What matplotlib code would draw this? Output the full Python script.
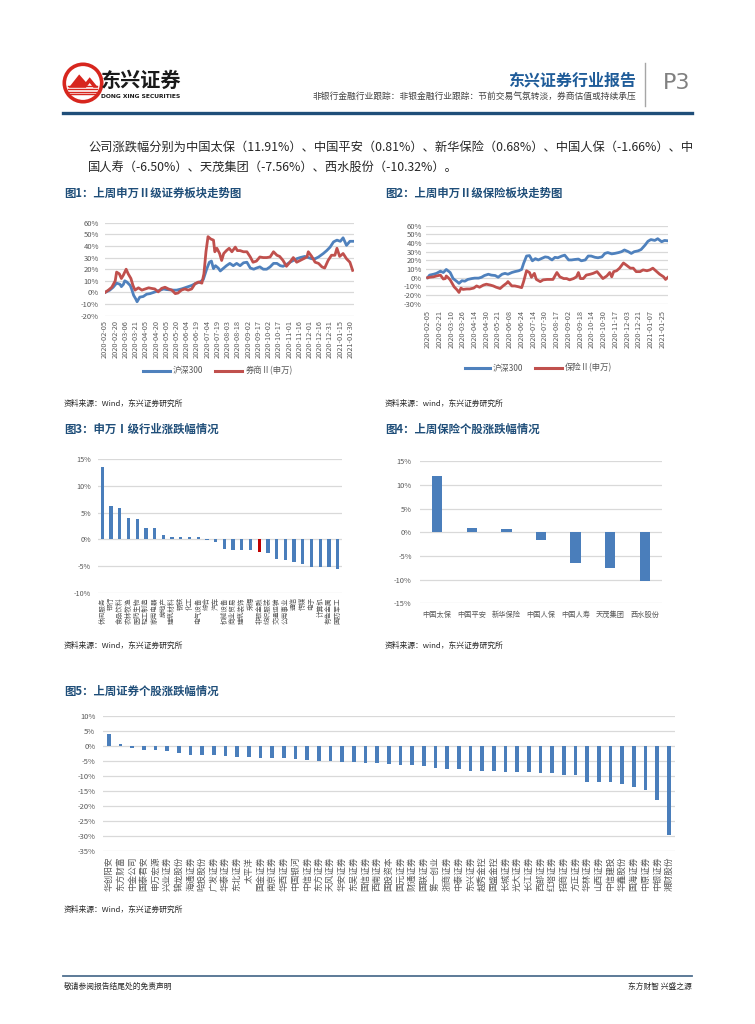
import matplotlib
matplotlib.use('Agg')
import matplotlib.pyplot as plt
import numpy as np
from matplotlib.patches import Circle, Polygon
from matplotlib.ticker import FuncFormatter

plt.rcParams['font.family'] = ['Noto Sans CJK SC', 'DejaVu Sans']

# ---------------- data ----------------
# Fig 1: calendar-day offset from 2020-02-05, cumulative change (%)
f1_hs300_day = [0, 7, 12, 17, 22, 24, 27, 29, 32, 37, 39, 42, 45, 47, 51, 56, 61, 66, 71, 76,
                81, 86, 90, 100, 105, 112, 117, 122, 127, 132, 139, 144, 149, 153, 156, 159, 162, 166, 169, 174,
                178, 183, 188, 193, 198, 203, 208, 213, 218, 222, 227, 232, 237, 242, 247, 252, 257, 261, 266, 271,
                276, 281, 286, 293, 298, 303, 308, 313, 320, 325, 330, 335, 340, 345, 349, 354, 359, 363]
f1_hs300 = [0, 2, 4.5, 8, 7, 5, 7, 10, 9, 6, 3, -2.5, -5.5, -8, -4, -3.5, -1.5, -1, 0, 1,
            2, 3, 2.5, 2, 2, 3, 4, 5, 6, 7.5, 9, 11, 20, 26, 27, 20.5, 23, 21, 18.5, 21,
            23, 25, 23, 25, 23, 25.5, 26, 21, 20, 21, 22, 20, 20, 22, 25, 25, 23, 22.5, 24, 26,
            27.5, 29, 30, 31, 30, 29, 29, 30.5, 33.5, 36, 39, 43.5, 45, 44, 47, 40.5, 44, 44]
f1_broker_day = [0, 5, 10, 15, 17, 21, 24, 27, 31, 34, 38, 41, 44, 49, 54, 59, 64, 68, 73, 78,
                 83, 88, 93, 98, 103, 107, 112, 117, 122, 127, 132, 137, 142, 145, 148, 151, 155, 159, 161, 164,
                 168, 171, 174, 178, 182, 186, 191, 194, 198, 203, 208, 213, 217, 222, 227, 232, 237, 242, 247, 252,
                 256, 261, 266, 271, 276, 281, 286, 291, 296, 298, 303, 308, 313, 318, 322, 327, 332, 337, 340, 344,
                 349, 354, 359, 363]
f1_broker = [0, 2, 4.5, 10, 17.5, 16, 12, 15, 20, 16, 12, 6, 2, 4, 2, 3, 4, 3.5, 3, 0.5,
             3.5, 4.5, 3, 2, -1, -0.5, 2, 3, 2, 3, 7.5, 9, 8, 16, 35, 48, 46, 45, 35, 38,
             33.5, 27.5, 33.5, 36, 38, 35, 39, 36, 36, 35, 35, 30.5, 26, 27, 30.5, 30, 30, 30.5, 35, 32,
             31, 27.5, 22.5, 26, 30, 26, 27.5, 29, 30.5, 35, 31, 26, 25, 22, 21, 27.5, 32, 32, 38, 31,
             33.5, 29, 26, 19]
f1_ticklabels = ['2020-02-05', '2020-02-20', '2020-03-06', '2020-03-21', '2020-04-05', '2020-04-20',
                 '2020-05-05', '2020-05-20', '2020-06-04', '2020-06-19', '2020-07-04', '2020-07-19',
                 '2020-08-03', '2020-08-18', '2020-09-02', '2020-09-17', '2020-10-02', '2020-10-17',
                 '2020-11-01', '2020-11-16', '2020-12-01', '2020-12-16', '2020-12-31', '2021-01-15',
                 '2021-01-30']
f1_tick_step_days = 15

# Fig 2: trading-day index from 2020-02-05
f2_hs300_idx = [0, 2, 6, 9, 13, 14, 16, 19, 23, 26, 30, 32, 35, 38, 41, 45, 48, 52, 55, 58,
                62, 65, 69, 72, 76, 79, 82, 86, 89, 93, 96, 98, 101, 104, 107, 110, 113, 116, 120, 123,
                127, 130, 133, 137, 140, 144, 147, 150, 154, 157, 161, 164, 167, 171, 174, 178, 181, 184, 188, 191,
                195, 198, 201, 205, 208, 211, 215, 218, 222, 225, 228, 232, 235, 239, 242, 246]
f2_hs300 = [0, 3, 4, 5, 7.5, 7, 6, 9.5, 6, -1, -4.5, -6.5, -3.5, -4, -2, -1, -0.5, -0.5, 0.5, 2.5,
            4, 3, 2.5, 0.5, 4, 5, 4, 6, 7, 8, 9.5, 16.5, 25, 25.5, 19.5, 22, 20.5, 22, 24, 23.5,
            20.5, 23.5, 23, 25, 26, 20.5, 20.5, 21, 21.5, 19.5, 20.5, 25, 25, 23.5, 23, 24, 28, 29, 27.5, 28,
            29, 30, 32, 30, 28, 30, 31, 32.5, 37.5, 42, 44, 43, 45, 41.5, 43, 42.5]
f2_insur_idx = [0, 2, 6, 9, 13, 16, 18, 19, 21, 23, 25, 27, 30, 32, 34, 36, 40, 43, 47, 50,
                53, 57, 60, 64, 67, 70, 74, 77, 81, 82, 86, 89, 93, 96, 98, 101, 104, 106, 109, 111,
                115, 118, 122, 125, 128, 132, 135, 139, 142, 145, 149, 152, 154, 156, 159, 162, 166, 169, 173, 176,
                179, 183, 186, 188, 190, 193, 196, 200, 203, 207, 210, 213, 217, 220, 224, 227, 230, 234, 237, 241,
                243, 246]
f2_insur = [0, 0.5, 1, 2, 3, -1.5, -1, 2, 0, -2.5, -6.5, -10.5, -14, -17, -12, -13.5, -13, -13, -12, -9.5,
            -11, -8.5, -7.5, -8.5, -9.5, -11, -12.5, -9.5, -6, -4.5, -9.5, -9.5, -10.5, -11.5, -4.5, 8, 6, 0.5, 5, -2,
            -4.5, -2.5, -2, -2, -2, 6, 1, -1, -1, -2.5, -1, 1, 6, -1, -1, 3, 4, 5, 7, 3,
            -1, 2, 6, 1, 7, 8, 11, 17, 14.5, 11, 11, 7, 7, 9, 8, 9, 11, 7, 4, 1,
            -2, 1]
f2_ticklabels = ['2020-02-05', '2020-02-21', '2020-03-10', '2020-03-26', '2020-04-14', '2020-04-30',
                 '2020-05-21', '2020-06-08', '2020-06-24', '2020-07-14', '2020-07-30', '2020-08-17',
                 '2020-09-02', '2020-09-18', '2020-10-14', '2020-10-30', '2020-11-17', '2020-12-03',
                 '2020-12-21', '2021-01-07', '2021-01-25']
f2_tick_step = 12

# Fig 3: SW level-1 industries weekly change (%)
f3_names = ['休闲服务', '银行', '食品饮料', '农林牧渔', '医药生物', '轻工制造', '家用电器', '房地产',
            '建筑材料', '钢铁', '化工', '电气设备', '综合', '汽车', '机械设备', '商业贸易', '建筑装饰',
            '采掘', '非银金融', '纺织服装', '交通运输', '公用事业', '通信', '传媒', '电子', '计算机',
            '有色金属', '国防军工']
f3_values = [13.6, 6.25, 5.9, 3.9, 3.75, 2.2, 2.2, 0.75, 0.4, 0.4, 0.4, 0.4, -0.1, -0.5, -1.7, -2.0,
             -2.0, -2.0, -2.4, -2.6, -3.6, -3.8, -4.3, -4.5, -5.1, -5.1, -5.2, -5.6]
f3_highlight = '非银金融'

# Fig 4: insurance stocks weekly change (%)
f4_names = ['中国太保', '中国平安', '新华保险', '中国人保', '中国人寿', '天茂集团', '西水股份']
f4_values = [11.91, 0.81, 0.68, -1.66, -6.50, -7.56, -10.32]

# Fig 5: broker stocks weekly change (%)
f5_names = ['华创阳安', '东方财富', '中金公司', '国泰君安', '申万宏源', '兴业证券', '锦龙股份', '海通证券',
            '哈投股份', '广发证券', '华泰证券', '东北证券', '太平洋', '国金证券', '南京证券', '华西证券',
            '中国银河', '中信证券', '东方证券', '天风证券', '华安证券', '东吴证券', '国信证券', '西南证券',
            '国投资本', '国元证券', '财通证券', '国联证券', '第一创业', '浙商证券', '中泰证券', '东兴证券',
            '越秀金控', '国盛金控', '长城证券', '光大证券', '长江证券', '西部证券', '红塔证券', '招商证券',
            '方正证券', '华林证券', '山西证券', '中信建投', '华鑫股份', '国海证券', '中原证券', '中银证券',
            '湘财股份']
f5_values = [3.9, 0.5, -0.8, -1.4, -1.4, -1.8, -2.4, -3.0, -3.0, -3.0, -3.3, -3.9, -3.9, -4.2, -4.2,
             -4.2, -4.5, -4.9, -5.2, -5.2, -5.4, -5.5, -5.7, -5.7, -6.1, -6.3, -6.3, -6.7, -7.3, -7.6,
             -7.6, -8.3, -8.3, -8.3, -8.6, -8.8, -8.8, -9.2, -9.2, -9.8, -9.8, -12.0, -12.0, -12.0,
             -12.6, -13.6, -14.6, -18.2, -29.9]

# ---------------- styling ----------------
W, H = 755, 1024
BLUE = '#4F81BD'
RED = '#C0504D'
BAR = '#4A7EBB'
GRID = '#D9D9D9'
TICK = '#595959'
TITLE = '#1F4E79'

fig = plt.figure(figsize=(W / 100, H / 100), dpi=100)
fig.patch.set_facecolor('white')


def px_axes(l, t, r, b):
    return fig.add_axes([l / W, 1 - b / H, (r - l) / W, (b - t) / H])


def ftext(x, y, s, **kw):
    kw.setdefault('va', 'center')
    fig.text(x / W, 1 - y / H, s, **kw)


def hline(x0, x1, y, **kw):
    fig.add_artist(plt.Line2D([x0 / W, x1 / W], [1 - y / H, 1 - y / H], **kw))


def vline(x, y0, y1, **kw):
    fig.add_artist(plt.Line2D([x / W, x / W], [1 - y0 / H, 1 - y1 / H], **kw))


pct = FuncFormatter(lambda v, p: f'{v:.0f}%')


def style(ax, ypad, xpad, yfs, xfs):
    for s in ax.spines.values():
        s.set_visible(False)
    ax.grid(axis='y', color=GRID, lw=0.9)
    ax.set_axisbelow(True)
    ax.tick_params(axis='both', length=0, colors=TICK)
    ax.tick_params(axis='y', pad=ypad, labelsize=yfs)
    ax.tick_params(axis='x', pad=xpad, labelsize=xfs)
    ax.yaxis.set_major_formatter(pct)


# ---------------- header ----------------
lax = px_axes(62, 61, 104, 105)
lax.set_xlim(-1.1, 1.1)
lax.set_ylim(-1.1, 1.1)
lax.set_aspect('equal')
lax.axis('off')
lax.add_patch(Circle((0, 0), 0.98, fill=False, ec='#D7261E', lw=2.6))
lax.add_patch(Polygon([[-0.75, -0.25], [-0.2, 0.45], [0.15, 0.05], [0.35, 0.3], [0.8, -0.25],
                       [0.55, -0.25], [0.35, 0.0], [0.15, -0.25]], closed=True, fc='#D7261E', ec='none'))
for yy in [-0.05, -0.2, -0.35, -0.5]:
    lax.plot([-0.8, 0.75], [yy - 0.1, yy - 0.1], color='#D7261E', lw=1.0)

ftext(101, 80, '东兴证券', fontsize=14.5, weight='bold', color='#1a1a1a', ha='left')
ftext(101, 97, 'DONG XING SECURITIES', fontsize=4.3, weight='bold', color='#1a1a1a', ha='left',
      family=['DejaVu Sans'])
ftext(636, 80, '东兴证券行业报告', fontsize=11.5, weight='bold', color='#1F5C99', ha='right')
ftext(636, 96, '非银行金融行业跟踪：非银金融行业跟踪：节前交易气氛转淡，券商估值或持续承压',
      fontsize=6.3, color='#404040', ha='right')
vline(645, 63, 106, color='#A6A6A6', lw=1.0)
ftext(663, 83, 'P3', fontsize=16, color='#808080', ha='left', family=['DejaVu Sans'])
hline(63, 692, 113, color='#1F4E79', lw=2.4)

# body text
ftext(88, 147, '公司涨跌幅分别为中国太保（11.91%）、中国平安（0.81%）、新华保险（0.68%）、中国人保（-1.66%）、中',
      fontsize=8.8, color='#262626', ha='left')
ftext(88, 167, '国人寿（-6.50%）、天茂集团（-7.56%）、西水股份（-10.32%）。',
      fontsize=8.8, color='#262626', ha='left')

# ---------------- Figure 1 ----------------
ftext(64, 193, '图1：上周申万Ⅱ级证券板块走势图', fontsize=8.2, weight='bold', color=TITLE, ha='left')
ax1 = px_axes(105, 222.7, 354, 315.7)
ax1.plot(f1_hs300_day, f1_hs300, color=BLUE, lw=2.0, solid_joinstyle='round')
ax1.plot(f1_broker_day, f1_broker, color=RED, lw=2.0, solid_joinstyle='round')
ax1.set_ylim(-20, 60)
ax1.set_yticks(np.arange(-20, 61, 10))
ax1.set_xlim(0, 365)
ax1.set_xticks([i * f1_tick_step_days for i in range(len(f1_ticklabels))])
ax1.set_xticklabels(f1_ticklabels, rotation=90)
style(ax1, 4.3, 3, 5.5, 5.3)
hline(143, 170, 371, color=BLUE, lw=2.2)
ftext(173, 371, '沪深300', fontsize=6, color=TICK, ha='left')
hline(215, 242, 371, color=RED, lw=2.2)
ftext(246, 371, '券商Ⅱ(申万)', fontsize=6, color=TICK, ha='left')
ftext(64, 404, '资料来源：Wind，东兴证券研究所', fontsize=5.6, style='italic', color='#262626', ha='left')

# ---------------- Figure 2 ----------------
ftext(385, 193, '图2：上周申万Ⅱ级保险板块走势图', fontsize=8.2, weight='bold', color=TITLE, ha='left')
ax2 = px_axes(426, 225.7, 668, 303.7)
ax2.plot(f2_hs300_idx, f2_hs300, color=BLUE, lw=2.0, solid_joinstyle='round')
ax2.plot(f2_insur_idx, f2_insur, color=RED, lw=2.0, solid_joinstyle='round')
ax2.set_ylim(-30, 60)
ax2.set_yticks(np.arange(-30, 61, 10))
ax2.set_xlim(-1.7, 245.5)
ax2.set_xticks([i * f2_tick_step for i in range(len(f2_ticklabels))])
ax2.set_xticklabels(f2_ticklabels, rotation=90)
style(ax2, 3, 4.5, 5.5, 5.3)
hline(465, 490, 368, color=BLUE, lw=2.2)
ftext(493, 368, '沪深300', fontsize=6, color=TICK, ha='left')
hline(535, 562, 368, color=RED, lw=2.2)
ftext(565, 368, '保险Ⅱ(申万)', fontsize=6, color=TICK, ha='left')
ftext(385, 404, '资料来源：wind，东兴证券研究所', fontsize=5.6, style='italic', color='#262626', ha='left')

# ---------------- Figure 3 ----------------
ftext(64, 429, '图3：申万Ⅰ级行业涨跌幅情况', fontsize=8.2, weight='bold', color=TITLE, ha='left')
ax3 = px_axes(98, 459, 342, 593)
x3 = np.arange(len(f3_names))
c3 = ['#C00000' if n == f3_highlight else BAR for n in f3_names]
ax3.bar(x3, f3_values, width=0.38, color=c3)
ax3.set_ylim(-10, 15)
ax3.set_yticks(np.arange(-10, 16, 5))
ax3.set_xlim(-0.5, len(f3_names) - 0.5)
ax3.set_xticks(x3)
ax3.set_xticklabels(f3_names, rotation=90)
style(ax3, 5, 3, 5.2, 4.8)
ftext(64, 646, '资料来源：Wind，东兴证券研究所', fontsize=5.6, style='italic', color='#262626', ha='left')

# ---------------- Figure 4 ----------------
ftext(385, 429, '图4：上周保险个股涨跌幅情况', fontsize=8.2, weight='bold', color=TITLE, ha='left')
ax4 = px_axes(420, 461.3, 662, 603.3)
x4 = np.arange(len(f4_names))
ax4.bar(x4, f4_values, width=0.3, color=BAR)
ax4.set_ylim(-15, 15)
ax4.set_yticks(np.arange(-15, 16, 5))
ax4.set_xlim(-0.5, len(f4_names) - 0.5)
ax4.set_xticks(x4)
ax4.set_xticklabels(f4_names)
style(ax4, 6, 5.5, 5.4, 5.2)
ftext(385, 646, '资料来源：wind，东兴证券研究所', fontsize=5.6, style='italic', color='#262626', ha='left')

# ---------------- Figure 5 ----------------
ftext(64, 691, '图5：上周证券个股涨跌幅情况', fontsize=8.2, weight='bold', color=TITLE, ha='left')
ax5 = px_axes(103, 715.7, 674.8, 850.7)
x5 = np.arange(len(f5_names))
ax5.bar(x5, f5_values, width=0.32, color=BAR)
ax5.set_ylim(-35, 10)
ax5.set_yticks(np.arange(-35, 11, 5))
ax5.set_xlim(-0.5, len(f5_names) - 0.5)
ax5.set_xticks(x5)
ax5.set_xticklabels(f5_names, rotation=90)
style(ax5, 5.5, 4.3, 5.5, 6.2)
ftext(64, 910, '资料来源：Wind，东兴证券研究所', fontsize=5.6, style='italic', color='#262626', ha='left')

# ---------------- footer ----------------
hline(63, 692, 976, color='#4F6F8F', lw=1.3)
ftext(64, 987, '敬请参阅报告结尾处的免责声明', fontsize=5.6, color='#262626', ha='left')
ftext(692, 987, '东方财智 兴盛之源', fontsize=5.6, color='#262626', ha='right')

fig.savefig('out.png', dpi=100, facecolor='white')
